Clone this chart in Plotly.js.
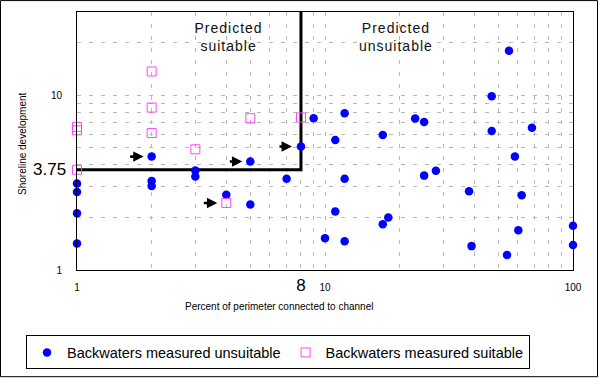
<!DOCTYPE html>
<html>
<head>
<meta charset="utf-8">
<script src="https://cdn.plot.ly/plotly-3.0.1.min.js"></script>
<style>
html,body{margin:0;padding:0;background:#fff;overflow:hidden;}
#chart{width:599px;height:381px;}
.annotation-text.spaced{letter-spacing:1px;}
</style>
</head>
<body>
<div id="chart"></div>
<script>
// ---- data ----
const unsuitableX = [1,1,1,1, 2,2,2, 3,3, 4, 5,5, 7, 8, 9, 10, 11,11, 12,12,12, 17.1,17.1,18, 23.1, 25.1,25.1, 28, 38.1,39, 47,47, 54.2,55.2, 58.3,60.2,62.1, 68.3, 100,100];
const unsuitableY = [3.13,2.80,2.11,1.42, 4.46,3.23,3.03, 3.71,3.43, 2.70, 4.18,2.37, 3.33, 5.09, 7.4, 1.52, 5.55,2.16, 7.9,3.33,1.46, 5.93,1.83,2.0, 7.37, 7.03,3.47, 3.70, 2.82,1.37, 9.87,6.24, 1.22,18.0, 4.46,1.69,2.68, 6.52, 1.79,1.39];
const suitableX = [1,1,1, 2,2,2, 3, 4, 5, 8];
const suitableY = [6.6,6.3,3.75, 13.7,8.51,6.08, 4.91, 2.42, 7.40, 7.47];
const thresholdX = 8;        // percent connected
const thresholdY = 3.75;     // shoreline development
const arrowTargetsX = [2, 5, 8, 4];
const arrowTargetsY = [4.46, 4.18, 5.09, 2.42];
const xTickVals = [1,2,3,4,5,6,7,8,9,10,20,30,40,50,60,70,80,90,100];
const xTickText = ['1','','','','','','','<span style="font-size:17px">8</span>','','10','','','','','','','','','100'];
const yTickVals = [1,2,3,4,5,6,7,8,9,10,20,30];
const yTickText = ['1','','','','','','','','','10','',''];
const xRange = [1, 100];
const yRange = [1, 30];

const FONT = 'Arial, "Liberation Sans", sans-serif';
const L = 77, R = 26, T = 12, B = 109, W = 599, H = 381;
const pw = W - L - R, ph = H - T - B;
const px2paperX = p => (p - L) / pw;
const px2paperY = p => (H - B - p) / ph;

const traces = [
  {
    x: [1, thresholdX, thresholdX], y: [thresholdY, thresholdY, yRange[1]],
    mode: 'lines', line: {color: '#000', width: 3}, showlegend: false, hoverinfo: 'skip', cliponaxis: false
  },
  {
    name: 'Backwaters measured unsuitable', x: unsuitableX, y: unsuitableY,
    mode: 'markers', type: 'scatter', cliponaxis: false,
    marker: {symbol: 'circle', size: 8.5, color: '#0000ff', line: {width: 0}}
  },
  {
    name: 'Backwaters measured suitable', x: suitableX, y: suitableY,
    mode: 'markers', type: 'scatter', cliponaxis: false,
    marker: {symbol: 'square-open', size: 9, color: '#ff44ff', line: {width: 1, color: '#ff44ff'}}
  }
];

const annotations = [];
const arrowAx = [-23, -22, -23, -24];
const arrowStand = [8, 8, 9, 9];
for (let i = 0; i < arrowTargetsX.length; i++) {
  annotations.push({
    x: Math.log10(arrowTargetsX[i]), y: Math.log10(arrowTargetsY[i]), xref: 'x', yref: 'y',
    ax: arrowAx[i], ay: 0, showarrow: true, arrowhead: 2, arrowsize: 0.8, arrowwidth: 2.6,
    arrowcolor: '#000', standoff: arrowStand[i], text: ''
  });
}
annotations.push(
  {text: 'Predicted<br>suitable', x: px2paperX(228), y: px2paperY(37), xref: 'paper', yref: 'paper',
   showarrow: false, font: {family: FONT, size: 14, color: '#111'}, xanchor: 'center', yanchor: 'middle'},
  {text: 'Predicted<br>unsuitable', x: px2paperX(396), y: px2paperY(37), xref: 'paper', yref: 'paper',
   showarrow: false, font: {family: FONT, size: 14, color: '#111'}, xanchor: 'center', yanchor: 'middle'},
  {text: '3.75', x: px2paperX(68), y: Math.log10(thresholdY), xref: 'paper', yref: 'y',
   showarrow: false, font: {family: FONT, size: 17, color: '#000'}, xanchor: 'right', yanchor: 'middle'},
  {text: 'Percent of perimeter connected to channel', x: px2paperX(279), y: px2paperY(309), xref: 'paper', yref: 'paper',
   showarrow: false, font: {family: FONT, size: 10, color: '#000'}, xanchor: 'center', yanchor: 'middle'},
  {text: 'Shoreline development', x: px2paperX(23), y: px2paperY(145), xref: 'paper', yref: 'paper', textangle: -90,
   showarrow: false, font: {family: FONT, size: 10, color: '#000'}, xanchor: 'center', yanchor: 'middle'}
);

const axisCommon = {
  type: 'log', showline: true, linecolor: '#000', linewidth: 1, mirror: true,
  showgrid: true, gridcolor: '#b8b8b8', gridwidth: 1, griddash: '4px,8px',
  zeroline: false, ticks: '', tickmode: 'array', tickfont: {family: FONT, size: 10, color: '#000'}
};

const layout = {
  width: W, height: H,
  margin: {l: L, r: R, t: T, b: B, pad: 0},
  paper_bgcolor: '#fff', plot_bgcolor: '#fff',
  font: {family: FONT, color: '#000'},
  xaxis: Object.assign({}, axisCommon, {
    range: [Math.log10(xRange[0]), Math.log10(xRange[1])],
    tickvals: xTickVals, ticktext: xTickText, ticklabelstandoff: 8
  }),
  yaxis: Object.assign({}, axisCommon, {
    range: [Math.log10(yRange[0]), Math.log10(yRange[1])],
    tickvals: yTickVals, ticktext: yTickText, ticklabelstandoff: 12
  }),
  showlegend: true,
  legend: {
    orientation: 'h', x: px2paperX(26), xanchor: 'left', y: px2paperY(338), yanchor: 'top',
    bordercolor: '#000', borderwidth: 1, bgcolor: '#fff',
    font: {family: FONT, size: 14.5, color: '#000'}, itemwidth: 30, tracegroupgap: 0
  },
  annotations: annotations,
  shapes: [
    {type: 'rect', xref: 'paper', yref: 'paper', x0: px2paperX(0.5), x1: px2paperX(597.5),
     y0: px2paperY(379.5), y1: px2paperY(0.5), line: {color: '#000', width: 1}, layer: 'above'}
  ]
};

Plotly.newPlot('chart', traces, layout, {staticPlot: true, displayModeBar: false}).then(() => {
  document.querySelectorAll('.annotation-text').forEach(t => {
    if (/Predicted/.test(t.textContent)) t.classList.add('spaced');
  });
});
</script>
</body>
</html>
